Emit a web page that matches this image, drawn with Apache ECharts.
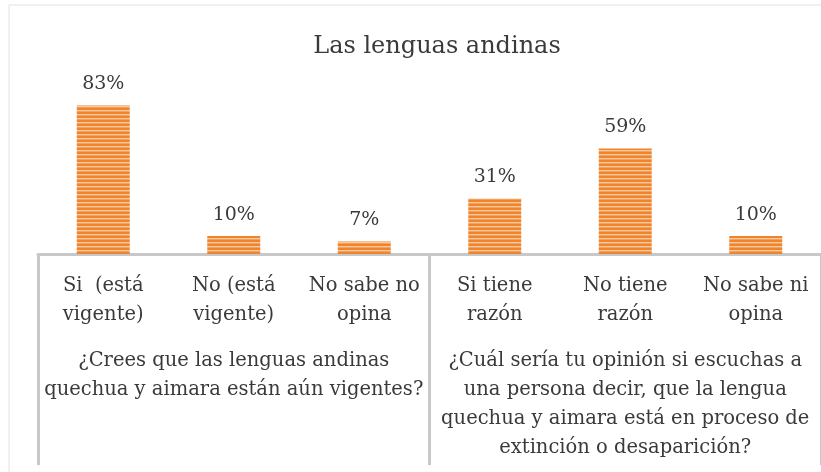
<!DOCTYPE html>
<html>
<head>
<meta charset="utf-8">
<script src="https://cdn.jsdelivr.net/npm/echarts@6/dist/echarts.min.js"></script>
<style>
  html, body { margin: 0; padding: 0; background: #fff; }
  #chart { width: 821px; height: 472px; }
</style>
</head>
<body>
<div id="chart"></div>
<script>
const categories = [
  "Si  (está\nvigente)",
  "No (está\nvigente)",
  "No sabe no\nopina",
  "Si tiene\nrazón",
  "No tiene\nrazón",
  "No sabe ni\nopina",
];
const groups = [
  "¿Crees que las lenguas andinas\nquechua y aimara están aún vigentes?",
  "¿Cuál sería tu opinión si escuchas a\nuna persona decir, que la lengua\nquechua y aimara está en proceso de\nextinción o desaparición?",
];
const values = [83, 10, 7, 31, 59, 10];

const FONT = "DejaVu Serif";
const TEXT = "#3a3a3a";

// striped fill like the original bars
const stripe = document.createElement("canvas");
stripe.width = 4;
stripe.height = 4;
const sctx = stripe.getContext("2d");
sctx.fillStyle = "#F0842C";
sctx.fillRect(0, 0, 4, 2);
sctx.fillStyle = "#F9C99E";
sctx.fillRect(0, 2, 4, 1);
sctx.fillStyle = "#F3A15E";
sctx.fillRect(0, 3, 4, 1);

const chart = echarts.init(document.getElementById("chart"));

chart.setOption({
  animation: false,
  title: {
    text: "Las lenguas andinas",
    left: 432,
    top: 30,
    textAlign: "center",
    textStyle: { fontFamily: FONT, fontSize: 24, fontWeight: "normal", color: TEXT },
  },
  graphic: [
    {
      type: "polyline",
      shape: { points: [[9, 480], [9, 5], [840, 5]] },
      style: { stroke: "#e2e2e2", lineWidth: 1, fill: null },
      silent: true,
    },
  ],
  grid: { left: 38, top: 75, width: 788, height: 179 },
  xAxis: [
    {
      type: "category",
      data: categories,
      axisLine: { lineStyle: { color: "#c8c8c8", width: 3 } },
      axisTick: { show: false },
      axisLabel: {
        interval: 0,
        margin: 17,
        fontFamily: FONT,
        fontSize: 19.5,
        lineHeight: 29,
        color: TEXT,
      },
    },
    {
      type: "category",
      data: groups,
      position: "bottom",
      axisLine: { show: false },
      axisTick: {
        show: true,
        length: 211,
        lineStyle: { color: "#c8c8c8", width: 3 },
      },
      axisLabel: {
        interval: 0,
        margin: 92,
        fontFamily: FONT,
        fontSize: 19.5,
        lineHeight: 29,
        color: TEXT,
      },
    },
  ],
  yAxis: {
    type: "value",
    min: 0,
    max: 100,
    show: false,
  },
  series: [
    {
      type: "bar",
      data: values,
      barWidth: 53,
      itemStyle: { color: { image: stripe, repeat: "repeat" } },
      label: {
        show: true,
        position: "top",
        distance: 12,
        formatter: "{c}%",
        fontFamily: FONT,
        fontSize: 19,
        color: TEXT,
      },
    },
  ],
});
</script>
</body>
</html>
